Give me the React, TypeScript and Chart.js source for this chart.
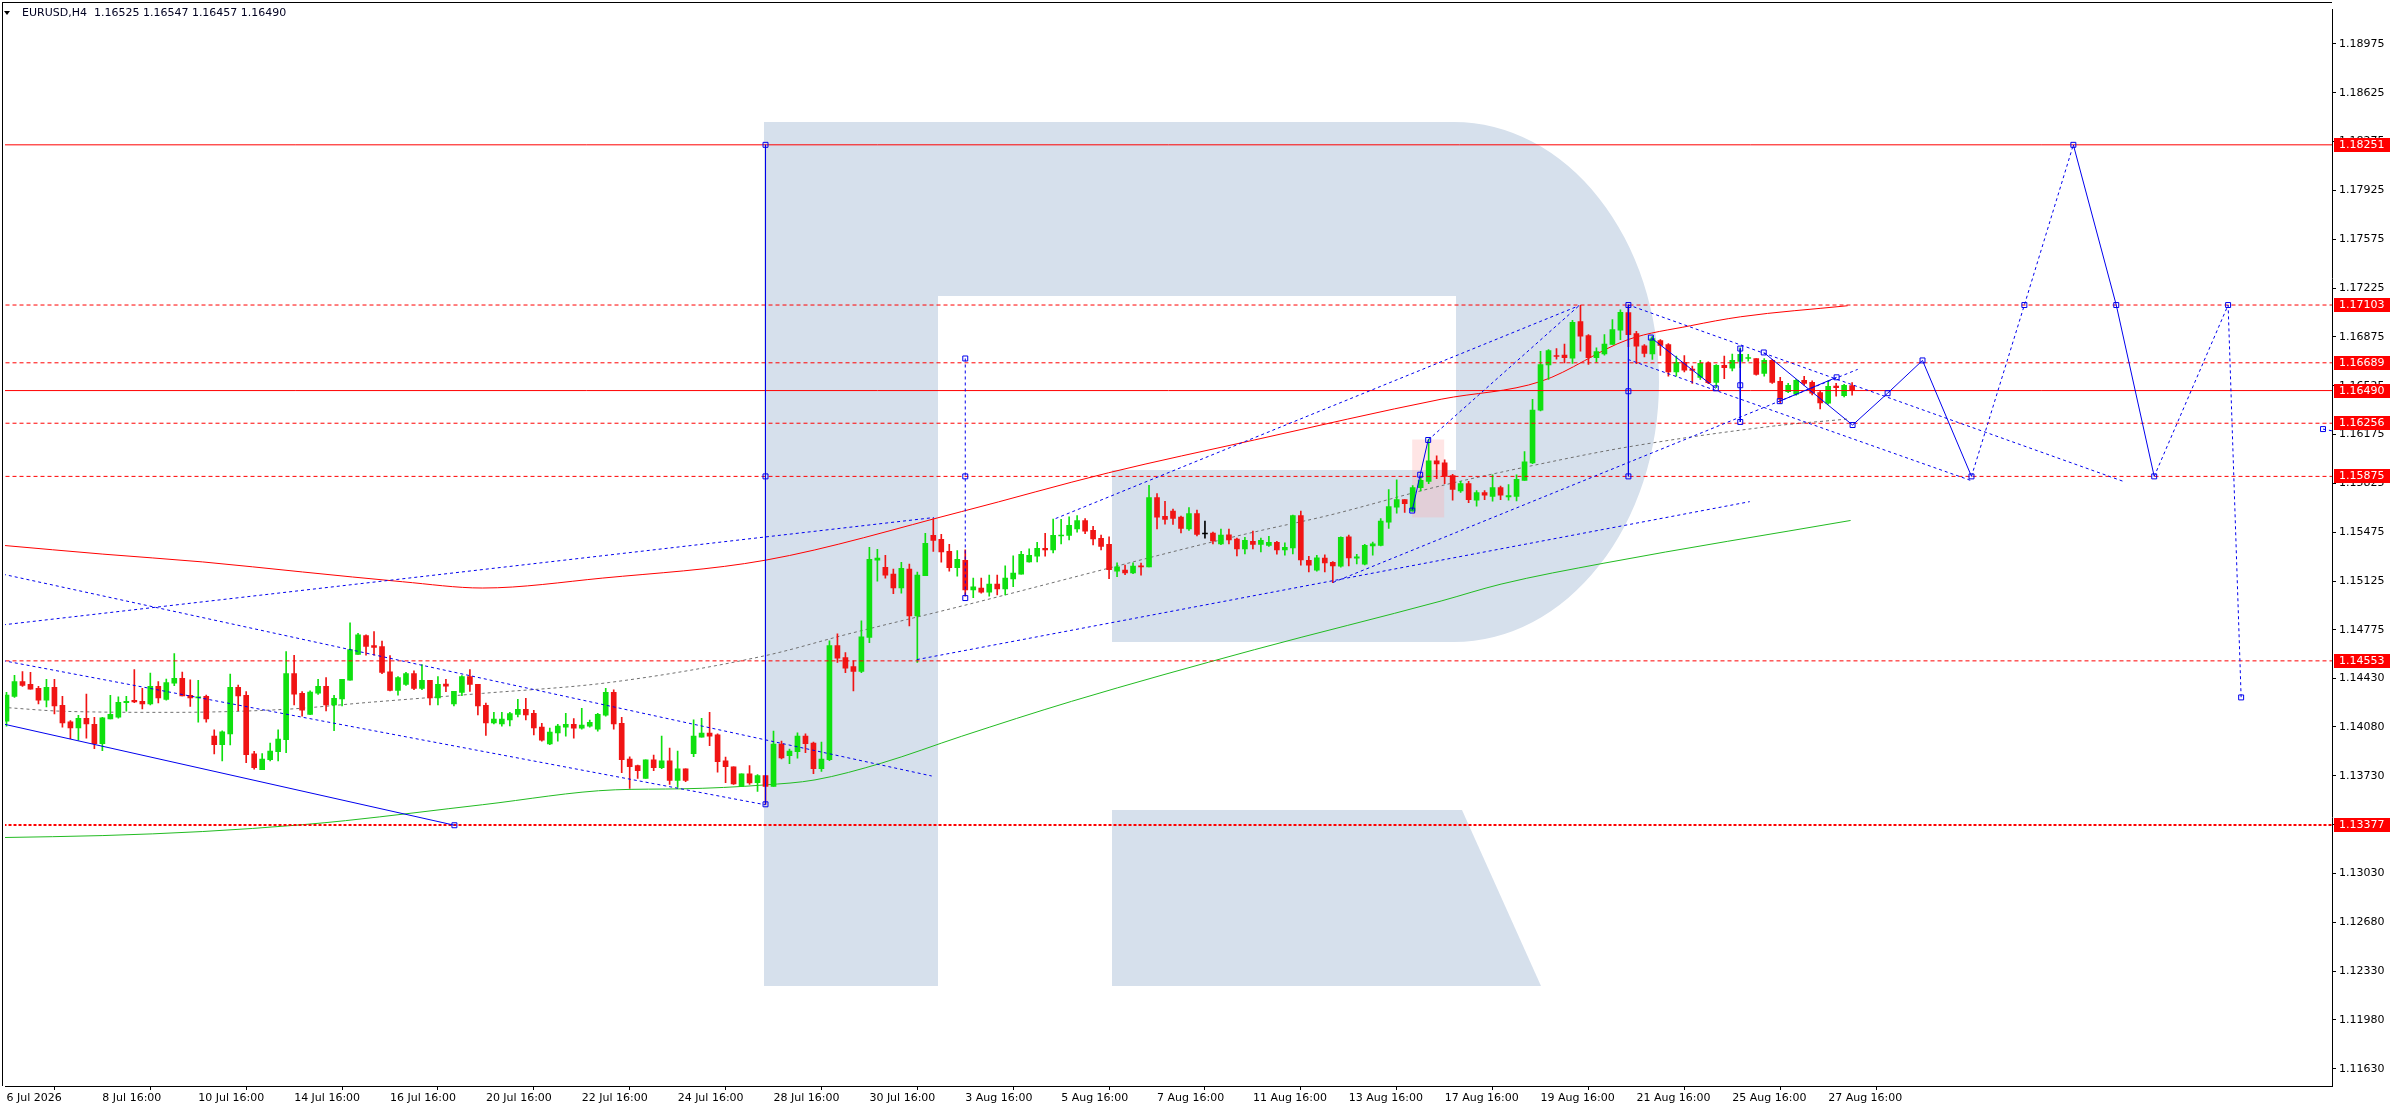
import React, { useEffect, useRef } from 'react';
import { Chart, registerables } from 'chart.js';

Chart.register(...registerables);

// EURUSD H4 candles, bar 0 = 6 Jul 16:00
const opens = [
  1.14120, 1.14299, 1.14405, 1.14384, 1.14356, 1.14272, 1.14363, 1.14234, 1.14116, 1.14073,
  1.14142, 1.14099, 1.13959, 1.14137, 1.14149, 1.14253, 1.14270, 1.14263, 1.14244, 1.14370,
  1.14277, 1.14394, 1.14427, 1.14306, 1.14287, 1.14299, 1.14014, 1.13952, 1.14030, 1.14363,
  1.14306, 1.13886, 1.13774, 1.13845, 1.13902, 1.13988, 1.14462, 1.14320, 1.14170, 1.14322,
  1.14370, 1.14237, 1.14280, 1.14415, 1.14600, 1.14735, 1.14662, 1.14655, 1.14474, 1.14341,
  1.14384, 1.14462, 1.14356, 1.14413, 1.14287, 1.14386, 1.14244, 1.14327, 1.14441, 1.14384,
  1.14235, 1.14109, 1.14101, 1.14130, 1.14170, 1.14206, 1.14177, 1.14078, 1.13957, 1.14037,
  1.14078, 1.14099, 1.14071, 1.14085, 1.14063, 1.14163, 1.14327, 1.14106, 1.13850, 1.13802,
  1.13710, 1.13843, 1.13788, 1.13836, 1.13696, 1.13779, 1.13888, 1.14006, 1.14035, 1.14023,
  1.13836, 1.13793, 1.13653, 1.13743, 1.13681, 1.13731, 1.13653, 1.13957, 1.13874, 1.13902,
  1.14014, 1.13964, 1.13781, 1.13845, 1.14662, 1.14576, 1.14512, 1.14477, 1.14721, 1.15274,
  1.15224, 1.15175, 1.15075, 1.15210, 1.14875, 1.15163, 1.15452, 1.15424, 1.15338, 1.15220,
  1.15274, 1.15061, 1.15075, 1.15046, 1.15103, 1.15068, 1.15141, 1.15175, 1.15262, 1.15303,
  1.15360, 1.15348, 1.15448, 1.15452, 1.15498, 1.15559, 1.15488, 1.15431, 1.15388, 1.15196,
  1.15203, 1.15184, 1.15234, 1.15227, 1.15723, 1.15588, 1.15626, 1.15583, 1.15498, 1.15609,
  1.15462, 1.15469, 1.15391, 1.15457, 1.15426, 1.15355, 1.15410, 1.15388, 1.15381, 1.15403,
  1.15348, 1.15362, 1.15595, 1.15274, 1.15203, 1.15289, 1.15260, 1.15232, 1.15441, 1.15289,
  1.15246, 1.15377, 1.15381, 1.15547, 1.15654, 1.15709, 1.15626, 1.15794, 1.15839, 1.15987,
  1.15972, 1.15880, 1.15770, 1.15823, 1.15704, 1.15759, 1.15732, 1.15794, 1.15728, 1.15732,
  1.15846, 1.15972, 1.16350, 1.16673, 1.16741, 1.16744, 1.16722, 1.16984, 1.16884, 1.16725,
  1.16753, 1.16820, 1.16922, 1.17048, 1.16898, 1.16810, 1.16753, 1.16848, 1.16820, 1.16623,
  1.16692, 1.16644, 1.16585, 1.16689, 1.16549, 1.16670, 1.16651, 1.16699, 1.16720, 1.16720,
  1.16613, 1.16706, 1.16556, 1.16483, 1.16464, 1.16563, 1.16549, 1.16475, 1.16400, 1.16523,
  1.16454, 1.16525,
];
const highs = [
  1.14327, 1.14450, 1.14477, 1.14470, 1.14370, 1.14420, 1.14420, 1.14299, 1.14125, 1.14163,
  1.14315, 1.14149, 1.14149, 1.14306, 1.14296, 1.14299, 1.14491, 1.14356, 1.14465, 1.14405,
  1.14422, 1.14605, 1.14472, 1.14417, 1.14413, 1.14308, 1.14059, 1.14052, 1.14458, 1.14379,
  1.14332, 1.13904, 1.13888, 1.13964, 1.14059, 1.14619, 1.14593, 1.14332, 1.14339, 1.14420,
  1.14434, 1.14306, 1.14420, 1.14826, 1.14750, 1.14740, 1.14762, 1.14695, 1.14591, 1.14441,
  1.14470, 1.14481, 1.14526, 1.14413, 1.14441, 1.14420, 1.14334, 1.14448, 1.14491, 1.14384,
  1.14251, 1.14185, 1.14185, 1.14185, 1.14277, 1.14284, 1.14199, 1.14106, 1.14071, 1.14099,
  1.14177, 1.14139, 1.14213, 1.14128, 1.14177, 1.14356, 1.14346, 1.14149, 1.13866, 1.13807,
  1.13843, 1.13878, 1.14014, 1.13928, 1.13907, 1.13779, 1.14130, 1.14142, 1.14185, 1.14030,
  1.13864, 1.13793, 1.13743, 1.13802, 1.13738, 1.13731, 1.14049, 1.13978, 1.13921, 1.14037,
  1.14030, 1.13971, 1.13971, 1.14697, 1.14747, 1.14612, 1.14553, 1.14840, 1.15367, 1.15353,
  1.15310, 1.15210, 1.15260, 1.15246, 1.15189, 1.15467, 1.15573, 1.15459, 1.15388, 1.15343,
  1.15348, 1.15146, 1.15146, 1.15168, 1.15168, 1.15234, 1.15305, 1.15338, 1.15355, 1.15403,
  1.15467, 1.15569, 1.15567, 1.15585, 1.15595, 1.15573, 1.15517, 1.15455, 1.15441, 1.15255,
  1.15239, 1.15255, 1.15253, 1.15811, 1.15752, 1.15697, 1.15640, 1.15590, 1.15652, 1.15633,
  1.15554, 1.15476, 1.15498, 1.15498, 1.15433, 1.15438, 1.15483, 1.15433, 1.15445, 1.15410,
  1.15398, 1.15597, 1.15626, 1.15303, 1.15310, 1.15312, 1.15265, 1.15441, 1.15455, 1.15317,
  1.15388, 1.15405, 1.15573, 1.15780, 1.15851, 1.15709, 1.15809, 1.15877, 1.16143, 1.16022,
  1.15994, 1.15889, 1.15839, 1.15839, 1.15773, 1.15773, 1.15887, 1.15806, 1.15816, 1.15887,
  1.16053, 1.16428, 1.16772, 1.16784, 1.16791, 1.16824, 1.16993, 1.17100, 1.16891, 1.16796,
  1.16891, 1.16998, 1.17069, 1.17105, 1.16915, 1.16820, 1.16879, 1.16855, 1.16827, 1.16737,
  1.16741, 1.16665, 1.16706, 1.16696, 1.16677, 1.16737, 1.16751, 1.16796, 1.16749, 1.16720,
  1.16720, 1.16713, 1.16585, 1.16542, 1.16570, 1.16592, 1.16559, 1.16487, 1.16559, 1.16542,
  1.16535, 1.16547,
];
const lows = [
  1.14085, 1.14291, 1.14370, 1.14351, 1.14244, 1.14223, 1.14173, 1.14078, 1.13995, 1.13985,
  1.13999, 1.13923, 1.13909, 1.14137, 1.14142, 1.14192, 1.14253, 1.14208, 1.14237, 1.14251,
  1.14272, 1.14375, 1.14301, 1.14227, 1.14113, 1.14113, 1.13886, 1.13836, 1.13950, 1.14196,
  1.13824, 1.13776, 1.13774, 1.13836, 1.13836, 1.13895, 1.14237, 1.14156, 1.14168, 1.14313,
  1.14194, 1.14052, 1.14230, 1.14415, 1.14600, 1.14593, 1.14593, 1.14462, 1.14337, 1.14308,
  1.14377, 1.14346, 1.14346, 1.14237, 1.14237, 1.14332, 1.14230, 1.14303, 1.14334, 1.14166,
  1.14018, 1.14101, 1.14085, 1.14087, 1.14151, 1.14130, 1.14023, 1.13978, 1.13952, 1.13978,
  1.14014, 1.13999, 1.14063, 1.14078, 1.14049, 1.14156, 1.14063, 1.13752, 1.13639, 1.13710,
  1.13710, 1.13767, 1.13781, 1.13667, 1.13646, 1.13688, 1.13866, 1.14006, 1.13945, 1.13755,
  1.13681, 1.13667, 1.13653, 1.13667, 1.13617, 1.13525, 1.13653, 1.13850, 1.13817, 1.13855,
  1.13895, 1.13745, 1.13760, 1.13838, 1.14541, 1.14469, 1.14337, 1.14469, 1.14683, 1.15125,
  1.15146, 1.15035, 1.15039, 1.14804, 1.14541, 1.15163, 1.15338, 1.15260, 1.15196, 1.15160,
  1.15016, 1.15006, 1.15039, 1.15016, 1.15025, 1.15025, 1.15084, 1.15175, 1.15260, 1.15262,
  1.15303, 1.15327, 1.15391, 1.15419, 1.15476, 1.15464, 1.15384, 1.15348, 1.15142, 1.15156,
  1.15170, 1.15177, 1.15168, 1.15227, 1.15498, 1.15533, 1.15531, 1.15469, 1.15488, 1.15448,
  1.15433, 1.15391, 1.15386, 1.15391, 1.15305, 1.15319, 1.15355, 1.15334, 1.15374, 1.15317,
  1.15310, 1.15319, 1.15239, 1.15191, 1.15196, 1.15191, 1.15113, 1.15225, 1.15234, 1.15248,
  1.15241, 1.15310, 1.15377, 1.15502, 1.15612, 1.15616, 1.15626, 1.15771, 1.15823, 1.15858,
  1.15823, 1.15704, 1.15761, 1.15687, 1.15661, 1.15709, 1.15697, 1.15709, 1.15704, 1.15699,
  1.15846, 1.15967, 1.16345, 1.16570, 1.16715, 1.16689, 1.16685, 1.16772, 1.16677, 1.16694,
  1.16744, 1.16820, 1.16855, 1.16805, 1.16682, 1.16732, 1.16713, 1.16741, 1.16594, 1.16594,
  1.16623, 1.16542, 1.16570, 1.16540, 1.16511, 1.16575, 1.16630, 1.16654, 1.16701, 1.16601,
  1.16594, 1.16542, 1.16400, 1.16475, 1.16457, 1.16528, 1.16459, 1.16359, 1.16392, 1.16449,
  1.16445, 1.16457,
];
const closes = [
  1.14308, 1.14405, 1.14377, 1.14351, 1.14272, 1.14363, 1.14230, 1.14109, 1.14073, 1.14142,
  1.14102, 1.13959, 1.14144, 1.14170, 1.14256, 1.14263, 1.14258, 1.14244, 1.14370, 1.14287,
  1.14398, 1.14427, 1.14301, 1.14287, 1.14296, 1.14137, 1.13952, 1.14045, 1.14363, 1.14301,
  1.13881, 1.13788, 1.13850, 1.13907, 1.13992, 1.14462, 1.14315, 1.14199, 1.14329, 1.14370,
  1.14237, 1.14284, 1.14420, 1.14633, 1.14740, 1.14657, 1.14650, 1.14470, 1.14341, 1.14434,
  1.14462, 1.14356, 1.14413, 1.14287, 1.14384, 1.14372, 1.14334, 1.14441, 1.14384, 1.14230,
  1.14109, 1.14135, 1.14135, 1.14175, 1.14206, 1.14166, 1.14073, 1.13985, 1.14042, 1.14085,
  1.14099, 1.14071, 1.14092, 1.14113, 1.14170, 1.14327, 1.14101, 1.13845, 1.13795, 1.13767,
  1.13843, 1.13788, 1.13836, 1.13696, 1.13779, 1.13696, 1.14014, 1.14035, 1.14014, 1.13831,
  1.13795, 1.13672, 1.13743, 1.13679, 1.13731, 1.13653, 1.13957, 1.13857, 1.13907, 1.14014,
  1.13959, 1.13781, 1.13850, 1.14662, 1.14572, 1.14500, 1.14477, 1.14726, 1.15281, 1.15289,
  1.15167, 1.15075, 1.15217, 1.14875, 1.15167, 1.15395, 1.15417, 1.15334, 1.15220, 1.15281,
  1.15061, 1.15084, 1.15046, 1.15103, 1.15068, 1.15146, 1.15182, 1.15317, 1.15310, 1.15360,
  1.15348, 1.15452, 1.15452, 1.15524, 1.15559, 1.15483, 1.15426, 1.15374, 1.15206, 1.15227,
  1.15184, 1.15232, 1.15227, 1.15723, 1.15583, 1.15567, 1.15573, 1.15502, 1.15609, 1.15460,
  1.15462, 1.15412, 1.15455, 1.15419, 1.15355, 1.15417, 1.15388, 1.15417, 1.15403, 1.15348,
  1.15367, 1.15595, 1.15277, 1.15239, 1.15291, 1.15255, 1.15234, 1.15438, 1.15291, 1.15298,
  1.15381, 1.15391, 1.15554, 1.15659, 1.15709, 1.15680, 1.15794, 1.15847, 1.15987, 1.15965,
  1.15875, 1.15782, 1.15823, 1.15709, 1.15759, 1.15740, 1.15794, 1.15740, 1.15737, 1.15854,
  1.15979, 1.16350, 1.16677, 1.16777, 1.16734, 1.16725, 1.16979, 1.16879, 1.16725, 1.16770,
  1.16824, 1.16927, 1.17050, 1.16891, 1.16808, 1.16756, 1.16862, 1.16813, 1.16623, 1.16692,
  1.16637, 1.16635, 1.16685, 1.16547, 1.16670, 1.16654, 1.16706, 1.16749, 1.16727, 1.16606,
  1.16706, 1.16549, 1.16428, 1.16528, 1.16563, 1.16542, 1.16471, 1.16402, 1.16521, 1.16511,
  1.16528, 1.16490,
];

const xTickBars = [0, 12, 24, 36, 48, 60, 72, 84, 96, 108, 120, 132, 144, 156, 168, 180, 192, 204, 216, 228];
const xTickLabels = [
  '6 Jul 2026', '8 Jul 16:00', '10 Jul 16:00', '14 Jul 16:00', '16 Jul 16:00', '20 Jul 16:00',
  '22 Jul 16:00', '24 Jul 16:00', '28 Jul 16:00', '30 Jul 16:00', '3 Aug 16:00', '5 Aug 16:00',
  '7 Aug 16:00', '11 Aug 16:00', '13 Aug 16:00', '17 Aug 16:00', '19 Aug 16:00', '21 Aug 16:00',
  '25 Aug 16:00', '27 Aug 16:00',
];
const yTickValues = [
  1.18975, 1.18625, 1.18275, 1.17925, 1.17575, 1.17225, 1.16875, 1.16525, 1.16175, 1.15825,
  1.15475, 1.15125, 1.14775, 1.14430, 1.14080, 1.13730, 1.13380, 1.13030, 1.12680, 1.12330,
  1.11980, 1.11630,
];

// horizontal levels
const levelsSolid = [1.18251, 1.16490];
const levelsDashed = [1.17103, 1.16689, 1.16256, 1.15875, 1.14553];
const levelsBold = [1.13377];
const priceTags = [1.18251, 1.17103, 1.16689, 1.16256, 1.15875, 1.14553, 1.13377, 1.16490];

// moving averages, [bar, price]
const maRed = [
  [-0.5, 1.15381], [12.06, 1.15318], [24.56, 1.15262], [37.06, 1.15190], [49.56, 1.15120],
  [59.56, 1.15075], [74.56, 1.15146], [94.94, 1.15274], [119.56, 1.15623], [137.94, 1.15901],
  [156.19, 1.16136], [179.56, 1.16428], [192.06, 1.16556], [202.94, 1.16855], [210.8, 1.16955],
  [217.06, 1.17019], [230.44, 1.17098],
];
const maGreen = [
  [-0.5, 1.13287], [12.06, 1.13301], [24.56, 1.1333], [37.06, 1.13379], [42.44, 1.13408],
  [59.56, 1.13522], [76.19, 1.13629], [84.56, 1.13636], [94.94, 1.13664], [101.19, 1.137],
  [109.56, 1.13821], [119.56, 1.14013], [133.31, 1.14263], [156.19, 1.14633], [179.56, 1.14982],
  [187.06, 1.15103], [199.94, 1.15253], [230.81, 1.15559],
];
const maGray = [
  [-0.5, 1.1422], [7.44, 1.14191], [20.44, 1.14184], [34.94, 1.14206], [45.44, 1.14256],
  [59.56, 1.1432], [75.44, 1.14398], [94.94, 1.1459], [105.44, 1.14747], [119.56, 1.14946],
  [137.94, 1.15217], [148.69, 1.15374], [157.06, 1.15488], [165.44, 1.15595], [179.56, 1.15808],
  [192.06, 1.15965], [202.94, 1.16086], [221.19, 1.16236], [230.44, 1.16286],
];

// analysis drawings, [bar, price]
const trendSolid = [
  [[-0.44, 1.14101], [56.06, 1.13375]],
  [[95, 1.18251], [95, 1.13525]],
  [[175.94, 1.1563], [176.94, 1.15887], [177.94, 1.16136]],
  [[203, 1.17103], [203, 1.15875]],
  [[205.81, 1.1687], [213.94, 1.16506]],
  [[217, 1.16791], [217, 1.16265]],
  [[219.94, 1.16763], [231.06, 1.16243]],
  [[221.94, 1.16414], [229.06, 1.16585]],
  [[231.06, 1.16243], [235.44, 1.16471], [239.81, 1.16706], [245.94, 1.15875]],
  [[258.69, 1.18251], [264.06, 1.17103], [268.81, 1.15875]],
];
const trendDotted = [
  [[-0.44, 1.15174], [115.8, 1.13728]],
  [[-0.44, 1.14555], [94.94, 1.13522]],
  [[-0.44, 1.14811], [116.06, 1.1558]],
  [[120, 1.1672], [120, 1.15003]],
  [[113.94, 1.14562], [218.19, 1.15694]],
  [[131.31, 1.15573], [196.81, 1.17098]],
  [[166.03, 1.15115], [231.7, 1.16642]],
  [[177.94, 1.16136], [196.81, 1.17098]],
  [[202.94, 1.17105], [265.06, 1.15837]],
  [[202.94, 1.16713], [245.94, 1.15844]],
  [[245.94, 1.15875], [252.56, 1.17103], [258.69, 1.18251]],
  [[268.81, 1.15875], [278.06, 1.17103], [279.69, 1.14291]],
  [[289.94, 1.16214], [291.2, 1.162]],
];
const anchorPoints = [
  [95, 1.18251], [95, 1.15875], [95, 1.13525], [120, 1.1672], [120, 1.15875], [120, 1.15003],
  [56.06, 1.13375], [175.94, 1.1563], [176.94, 1.15887], [177.94, 1.16136],
  [203, 1.17103], [203, 1.16485], [203, 1.15875], [205.81, 1.1687], [213.94, 1.16506],
  [217, 1.16791], [217, 1.16528], [217, 1.16265], [219.94, 1.16763], [221.94, 1.16414],
  [229.06, 1.16585], [231.06, 1.16243], [235.44, 1.16471], [239.81, 1.16706], [245.94, 1.15875],
  [252.56, 1.17103], [258.69, 1.18251], [264.06, 1.17103], [268.81, 1.15875], [278.06, 1.17103],
  [279.69, 1.14291], [289.94, 1.16214],
];
const highlightBars = [175.94, 179.94];
const highlightPrices = [1.15581, 1.16139];

const GREEN = '#0fe00f';
const RED = '#f01414';
const BLUE = '#0000ee';
const FONT = 'DejaVu Sans';

const candleColor = (i: number) =>
  closes[i] > opens[i] ? GREEN : closes[i] < opens[i] ? RED : '#000000';

const toXY = (pts: number[][]) => pts.map(([x, y]) => ({ x, y }));

const lineSet = (pts: number[][], color: string, dash: number[], width: number, order: number, smooth = false) => ({
  type: 'line' as const,
  data: toXY(pts),
  borderColor: color,
  borderWidth: width,
  borderDash: dash,
  pointRadius: 0,
  fill: false,
  tension: smooth ? 0.4 : 0,
  cubicInterpolationMode: smooth ? ('monotone' as const) : ('default' as const),
  order,
});

const backdropPlugin = {
  id: 'backdrop',
  beforeDatasetsDraw(chart: any) {
    const { ctx, chartArea, scales } = chart;
    ctx.save();
    ctx.beginPath();
    ctx.rect(chartArea.left, chartArea.top, chartArea.width, chartArea.height);
    ctx.clip();
    // broker logo watermark
    ctx.fillStyle = '#d6e0ec';
    ctx.beginPath();
    ctx.moveTo(764, 122);
    ctx.lineTo(1454, 122);
    ctx.ellipse(1454, 382, 205, 260, 0, -Math.PI / 2, Math.PI / 2);
    ctx.lineTo(1112, 642);
    ctx.lineTo(1112, 470);
    ctx.lineTo(1456, 470);
    ctx.lineTo(1456, 296);
    ctx.lineTo(938, 296);
    ctx.lineTo(938, 986);
    ctx.lineTo(764, 986);
    ctx.closePath();
    ctx.fill();
    ctx.beginPath();
    ctx.moveTo(1112, 810);
    ctx.lineTo(1462, 810);
    ctx.lineTo(1541, 986);
    ctx.lineTo(1112, 986);
    ctx.closePath();
    ctx.fill();
    // highlighted zone
    const x1 = scales.x.getPixelForValue(highlightBars[0]);
    const x2 = scales.x.getPixelForValue(highlightBars[1]);
    const y1 = scales.y.getPixelForValue(highlightPrices[1]);
    const y2 = scales.y.getPixelForValue(highlightPrices[0]);
    ctx.fillStyle = 'rgba(255,170,170,0.3)';
    ctx.fillRect(x1, y1, x2 - x1, y2 - y1);
    ctx.restore();
  },
  afterDraw(chart: any) {
    const { ctx, chartArea, scales } = chart;
    ctx.save();
    // frame
    ctx.fillStyle = '#000';
    ctx.fillRect(2, 2, chartArea.right - 2, 1);
    ctx.fillRect(2, 2, 1, chartArea.bottom - 2);
    // price tags on the axis
    ctx.font = `11px "${FONT}"`;
    ctx.textBaseline = 'middle';
    ctx.textAlign = 'left';
    priceTags.forEach((p) => {
      const y = Math.round(scales.y.getPixelForValue(p));
      ctx.fillStyle = '#ff0000';
      ctx.fillRect(chartArea.right + 2, y - 7, 56, 14);
      ctx.fillStyle = '#ffffff';
      ctx.fillText(p.toFixed(5), chartArea.right + 7, y + 0.5);
    });
    // header
    ctx.fillStyle = '#000';
    ctx.beginPath();
    ctx.moveTo(4, 11);
    ctx.lineTo(10, 11);
    ctx.lineTo(7, 15);
    ctx.closePath();
    ctx.fill();
    ctx.fillStyle = '#000020';
    ctx.fillText('EURUSD,H4  1.16525 1.16547 1.16457 1.16490', 22, 13);
    ctx.restore();
  },
};

export default function App() {
  const canvasRef = useRef<HTMLCanvasElement>(null);

  useEffect(() => {
    document.body.style.margin = '0';
    if (!canvasRef.current) return;
    Chart.defaults.font.family = FONT;
    Chart.defaults.font.size = 11;
    Chart.defaults.color = '#000';

    const bars = opens.map((_, i) => i);
    const colors = bars.map(candleColor);

    const datasets: any[] = [
      lineSet(maGray, '#707070', [3, 3], 1, 20, true),
      lineSet(maGreen, '#22bb22', [], 1, 20, true),
      lineSet(maRed, '#ff0000', [], 1, 20, true),
      {
        type: 'bar',
        data: bars.map((i) => ({ x: i, y: [lows[i], highs[i]] })),
        backgroundColor: colors,
        borderWidth: 0,
        barThickness: 1,
        grouped: false,
        order: 11,
      },
      {
        type: 'bar',
        data: bars.map((i) => ({ x: i, y: [opens[i], closes[i]] })),
        backgroundColor: colors,
        borderWidth: 0,
        barThickness: 5,
        minBarLength: 1,
        grouped: false,
        order: 10,
      },
      ...levelsDashed.map((p) => lineSet([[-1, p], [292, p]], '#ff0000', [4, 3], 1, 4)),
      ...levelsBold.map((p) => lineSet([[-1, p], [292, p]], '#ff0000', [3, 2], 2, 4)),
      ...levelsSolid.map((p) => lineSet([[-1, p], [292, p]], '#ff0000', [], 1, 4)),
      ...trendDotted.map((pts) => lineSet(pts, BLUE, [3, 3], 1, 2)),
      ...trendSolid.map((pts) => lineSet(pts, BLUE, [], 1, 2)),
      {
        type: 'line',
        data: toXY(anchorPoints),
        showLine: false,
        pointStyle: 'rect',
        pointRadius: 3.5,
        pointBorderWidth: 1,
        pointBorderColor: BLUE,
        pointBackgroundColor: 'rgba(0,0,0,0)',
        order: 0,
      },
    ];

    const chart = new Chart(canvasRef.current, {
      type: 'bar',
      data: { datasets },
      plugins: [backdropPlugin],
      options: {
        animation: false,
        responsive: false,
        devicePixelRatio: 1,
        events: [],
        layout: { padding: { left: 2, top: 3, right: 0, bottom: 0 } },
        plugins: { legend: { display: false }, tooltip: { enabled: false } },
        scales: {
          x: {
            type: 'linear',
            min: -0.1875,
            max: 291.0625,
            offset: false,
            grid: { drawOnChartArea: false, tickLength: 4, color: '#000' },
            border: { display: true, color: '#000' },
            ticks: {
              autoSkip: false,
              maxRotation: 0,
              align: 'start',
              padding: 2,
              color: '#000',
              font: { family: FONT, size: 11 },
              callback: (_v: any, idx: number) => xTickLabels[idx],
            },
            afterBuildTicks: (s: any) => {
              s.ticks = xTickBars.map((v) => ({ value: v }));
            },
            afterFit: (s: any) => {
              s.height = 24;
            },
          },
          y: {
            type: 'linear',
            position: 'right',
            min: 1.115064,
            max: 1.192201,
            beginAtZero: false,
            grid: { drawOnChartArea: false, tickLength: 4, color: '#000' },
            border: { display: true, color: '#000' },
            ticks: {
              autoSkip: false,
              padding: 3,
              color: '#000',
              font: { family: FONT, size: 11 },
              callback: (v: any) => Number(v).toFixed(5),
            },
            afterBuildTicks: (s: any) => {
              s.ticks = yTickValues.map((v) => ({ value: v }));
            },
            afterFit: (s: any) => {
              s.width = 64;
            },
          },
        },
      } as any,
    });

    return () => chart.destroy();
  }, []);

  return (
    <div style={{ width: 2396, height: 1110, background: '#fff' }}>
      <canvas ref={canvasRef} width={2396} height={1110} style={{ width: 2396, height: 1110 }} />
    </div>
  );
}
